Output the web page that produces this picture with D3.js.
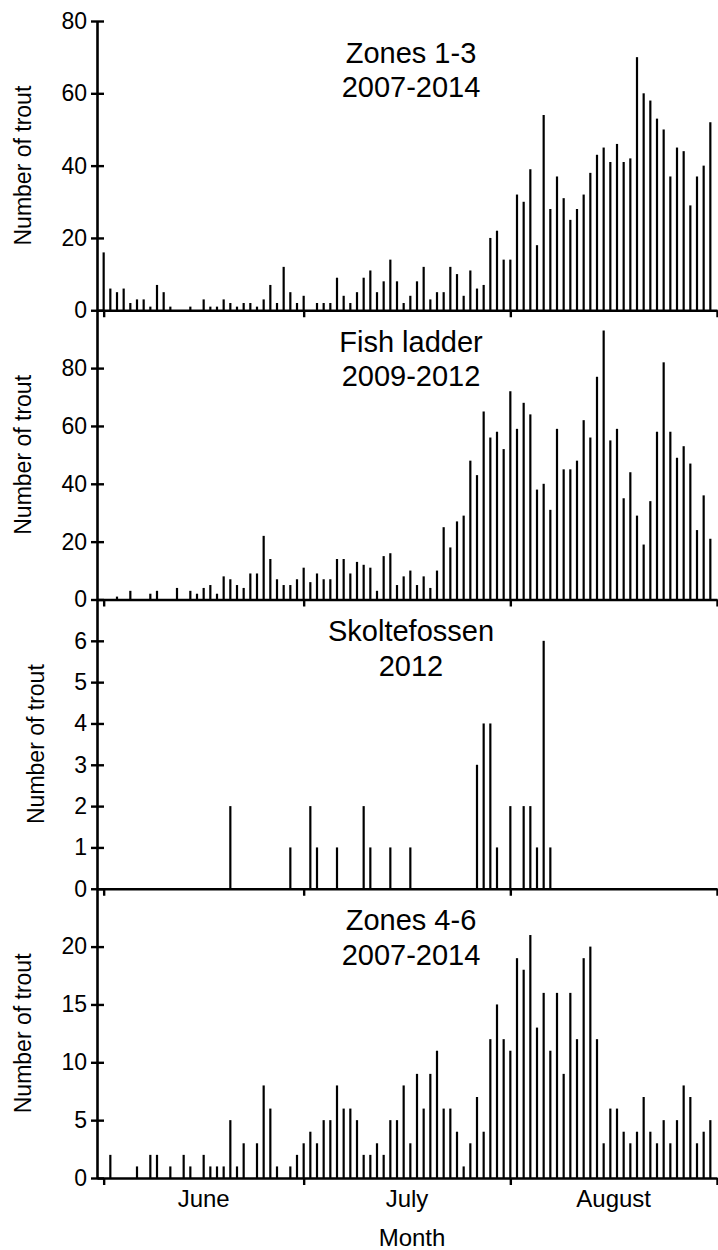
<!DOCTYPE html>
<html>
<head>
<meta charset="utf-8">
<script src="https://cdn.jsdelivr.net/npm/d3@7"></script>
<style>
  body { margin: 0; background: #fff; }
  svg { display: block; font-family: "Liberation Sans", Arial, sans-serif; }
</style>
</head>
<body>
<div id="chart"></div>
<script>
////  Data: daily counts, first value = 1 June, last value = 31 August
var firstDay = "2012-06-01";
var monthNames = ["June", "July", "August"];

var zones13 = [16,6,5,6,2,3,3,1,7,5,1,0,0,1,0,3,1,1,3,2,1,2,2,1,3,7,2,12,5,2,
  4,0,2,2,2,9,4,2,5,9,11,5,8,14,8,2,4,8,12,3,5,5,12,10,4,11,6,7,20,22,
  14,14,32,30,39,18,54,28,37,31,25,28,32,38,43,45,41,46,41,42,70,60,58,53,50,37,45,44,29,37,
  40,52];
var fishLadder = [0,0,1,0,3,0,0,2,3,0,0,4,0,3,2,4,5,2,8,7,5,4,9,9,22,14,7,5,5,7,
  11,6,9,7,7,14,14,9,13,12,11,3,15,16,5,8,10,5,8,4,10,25,18,27,29,48,43,65,56,58,
  52,72,59,68,64,38,40,31,59,45,45,48,62,56,77,93,55,59,35,44,29,19,34,58,82,58,49,53,47,24,
  36,21];
var skoltefossen = [0,0,0,0,0,0,0,0,0,0,0,0,0,0,0,0,0,0,0,2,0,0,0,0,0,0,0,0,1,0,
  0,2,1,0,0,1,0,0,0,2,1,0,0,1,0,0,1,0,0,0,0,0,0,0,0,0,3,4,4,1,
  0,2,0,2,2,1,6,1,0,0,0,0,0,0,0,0,0,0,0,0,0,0,0,0,0,0,0,0,0,0,
  0,0];
var zones46 = [0,2,0,0,0,1,0,2,2,0,1,0,2,1,0,2,1,1,1,5,1,3,0,3,8,6,1,0,1,2,
  3,4,3,5,5,8,6,6,5,2,2,3,2,5,5,8,3,9,6,9,11,6,6,4,1,3,7,4,12,15,
  12,11,19,18,21,13,16,11,16,9,16,12,19,20,12,3,6,6,4,3,4,7,4,3,5,3,5,8,7,3,
  4,5];

var panelTitles = [["Zones 1-3", "2007-2014"], ["Fish ladder", "2009-2012"],
                   ["Skoltefossen", "2012"], ["Zones 4-6", "2007-2014"]];
var panelMax = [80, 100, 7, 25];
var panelTicks = [[0,20,40,60,80], [0,20,40,60,80], [0,1,2,3,4,5,6], [0,5,10,15,20]];
var seriesList = [zones13, fishLadder, skoltefossen, zones46];

////  Layout
var W = 718, H = 1250;
var plotLeft = 97, plotRight = 717, plotTop = 21, plotBottom = 1178;
var panelH = (plotBottom - plotTop) / 4;

var svg = d3.select("#chart").append("svg")
  .attr("width", W).attr("height", H);
svg.append("rect").attr("width", W).attr("height", H).attr("fill", "#fff");

var start = d3.utcParse("%Y-%m-%d")(firstDay);
var x = d3.scaleUtc()
  .domain([d3.utcDay.offset(start, -1), d3.utcMonth.offset(start, 3)])
  .range([plotLeft, plotRight]);
var monthStarts = d3.utcMonth.range(start, d3.utcMonth.offset(start, 4));

seriesList.forEach(function(values, p) {
  var y0 = plotTop + panelH * (p + 1), y1 = plotTop + panelH * p;
  var y = d3.scaleLinear().domain([0, panelMax[p]]).range([y0, y1]);
  var g = svg.append("g");

  // bars (thin columns)
  var data = values.map(function(v, i) { return {date: d3.utcDay.offset(start, i), v: v}; })
    .filter(function(d) { return d.v > 0; });
  g.selectAll("line.bar")
    .data(data)
    .enter()
    .append("line")
      .attr("class", "bar")
      .attr("x1", function(d) { return x(d.date); })
      .attr("x2", function(d) { return x(d.date); })
      .attr("y1", y(0))
      .attr("y2", function(d) { return y(d.v); })
      .attr("stroke", "#000")
      .attr("stroke-width", 2.2);

  // x axis, month boundaries
  var xAxis = d3.axisBottom(x).tickValues(monthStarts).tickSize(7).tickSizeOuter(0).tickFormat("");
  var gx = g.append("g")
    .attr("transform", "translate(0," + y(0) + ")")
    .call(xAxis);
  gx.select(".domain").attr("stroke-width", 2.6);
  gx.selectAll(".tick line").attr("stroke-width", 2.4);

  // y axis, ticks crossing the line
  var yAxis = d3.axisLeft(y).tickValues(panelTicks[p]).tickFormat(d3.format("d"))
    .tickSize(6).tickSizeOuter(0);
  var gy = g.append("g")
    .attr("transform", "translate(" + plotLeft + ",0)")
    .call(yAxis);
  gy.select(".domain").attr("stroke-width", 2.6);
  gy.selectAll(".tick line").attr("x1", 7).attr("stroke-width", 2.4);
  gy.selectAll(".tick text")
    .attr("x", -10)
    .attr("fill", "#000")
    .style("font-size", "23px")
    .style("font-family", "'Liberation Sans', Arial, sans-serif");

  // y title
  var tx = panelMax[p] < 10 ? 36 : 23;
  g.append("text")
    .attr("transform", "translate(" + tx + "," + ((y0 + y1) / 2) + ") rotate(-90)")
    .attr("text-anchor", "middle")
    .attr("dy", "0.35em")
    .style("font-size", "23px")
    .text("Number of trout");

  // panel title
  g.selectAll("text.ptitle")
    .data(panelTitles[p])
    .enter()
    .append("text")
      .attr("class", "ptitle")
      .attr("x", 411)
      .attr("y", function(d, i) { return y1 + 41.7 + i * 34.3; })
      .attr("text-anchor", "middle")
      .style("font-size", "29px")
      .text(function(d) { return d; });

  // month names under the last panel
  if (p === seriesList.length - 1) {
    g.selectAll("text.month")
      .data(monthNames)
      .enter()
      .append("text")
        .attr("class", "month")
        .attr("x", function(d, i) { return (x(monthStarts[i]) + x(monthStarts[i + 1])) / 2; })
        .attr("y", 1206.5)
        .attr("text-anchor", "middle")
        .style("font-size", "24px")
        .text(function(d) { return d; });
    g.append("text")
      .attr("x", (plotLeft + plotRight) / 2 + 5)
      .attr("y", 1246)
      .attr("text-anchor", "middle")
      .style("font-size", "24px")
      .text("Month");
  }
});
</script>
</body>
</html>
